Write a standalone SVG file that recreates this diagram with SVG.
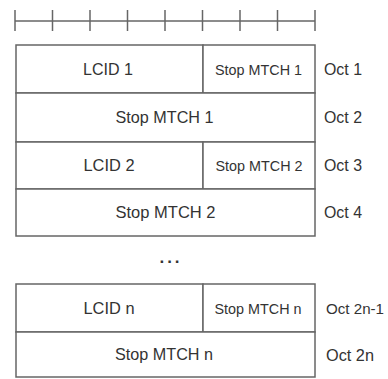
<svg xmlns="http://www.w3.org/2000/svg" width="388" height="379" viewBox="0 0 388 379">
<style>
.cell{fill:#fff;stroke:#666;stroke-width:1.5}
.rl{stroke:#666;stroke-width:1.5;fill:none}
text{font-family:"Liberation Sans",Arial,sans-serif;fill:#333}
.t{font-size:17px;text-anchor:middle}
.s{font-size:15px;text-anchor:middle}
.o{font-size:17px}
</style>
<rect width="388" height="379" fill="#fff"/>
<g id="ruler">
<line class="rl" x1="15" y1="21" x2="315" y2="21"/>
<line class="rl" x1="15" y1="10" x2="15" y2="31"/>
<line class="rl" x1="52.5" y1="10" x2="52.5" y2="31"/>
<line class="rl" x1="90" y1="10" x2="90" y2="31"/>
<line class="rl" x1="127.5" y1="10" x2="127.5" y2="31"/>
<line class="rl" x1="165" y1="10" x2="165" y2="31"/>
<line class="rl" x1="202.5" y1="10" x2="202.5" y2="31"/>
<line class="rl" x1="240" y1="10" x2="240" y2="31"/>
<line class="rl" x1="277.5" y1="10" x2="277.5" y2="31"/>
<line class="rl" x1="315" y1="10" x2="315" y2="31"/>
</g>
<g id="connectors"></g>
<g id="lcid1"><rect class="cell" x="16" y="45" width="187" height="48"/><text class="t" x="108" y="75" textLength="50" lengthAdjust="spacingAndGlyphs">LCID 1</text></g>
<g id="stop1a"><rect class="cell" x="203" y="45" width="112" height="48"/><text class="s" x="258.5" y="75" textLength="87" lengthAdjust="spacingAndGlyphs">Stop MTCH 1</text></g>
<g id="stop1b"><rect class="cell" x="16" y="93" width="299" height="49"/><text class="t" x="164.5" y="123" textLength="98" lengthAdjust="spacingAndGlyphs">Stop MTCH 1</text></g>
<g id="lcid2"><rect class="cell" x="16" y="142" width="187" height="47"/><text class="t" x="109" y="171" textLength="51" lengthAdjust="spacingAndGlyphs">LCID 2</text></g>
<g id="stop2a"><rect class="cell" x="203" y="142" width="112" height="47"/><text class="s" x="259" y="171" textLength="87" lengthAdjust="spacingAndGlyphs">Stop MTCH 2</text></g>
<g id="stop2b"><rect class="cell" x="16" y="189" width="299" height="47"/><text class="t" x="165.5" y="218" textLength="100" lengthAdjust="spacingAndGlyphs">Stop MTCH 2</text></g>
<g id="lcidn"><rect class="cell" x="16" y="284" width="187" height="48"/><text class="t" x="109" y="314" textLength="51" lengthAdjust="spacingAndGlyphs">LCID n</text></g>
<g id="stopna"><rect class="cell" x="203" y="284" width="112" height="48"/><text class="s" x="258" y="314" textLength="87" lengthAdjust="spacingAndGlyphs">Stop MTCH n</text></g>
<g id="stopnb"><rect class="cell" x="16" y="332" width="299" height="45"/><text class="t" x="164" y="360" textLength="98" lengthAdjust="spacingAndGlyphs">Stop MTCH n</text></g>
<g id="dots"><text class="t" x="171" y="263" font-weight="bold" letter-spacing="3">...</text></g>
<g id="octs">
<text class="o" x="324" y="75" textLength="38" lengthAdjust="spacingAndGlyphs">Oct 1</text>
<text class="o" x="324" y="123" textLength="38" lengthAdjust="spacingAndGlyphs">Oct 2</text>
<text class="o" x="324" y="171" textLength="38" lengthAdjust="spacingAndGlyphs">Oct 3</text>
<text class="o" x="324" y="218" textLength="38" lengthAdjust="spacingAndGlyphs">Oct 4</text>
<text x="326" y="314" font-size="15.5" textLength="58" lengthAdjust="spacingAndGlyphs">Oct 2n-1</text>
<text class="o" x="326" y="361" textLength="48" lengthAdjust="spacingAndGlyphs">Oct 2n</text>
</g>
</svg>
